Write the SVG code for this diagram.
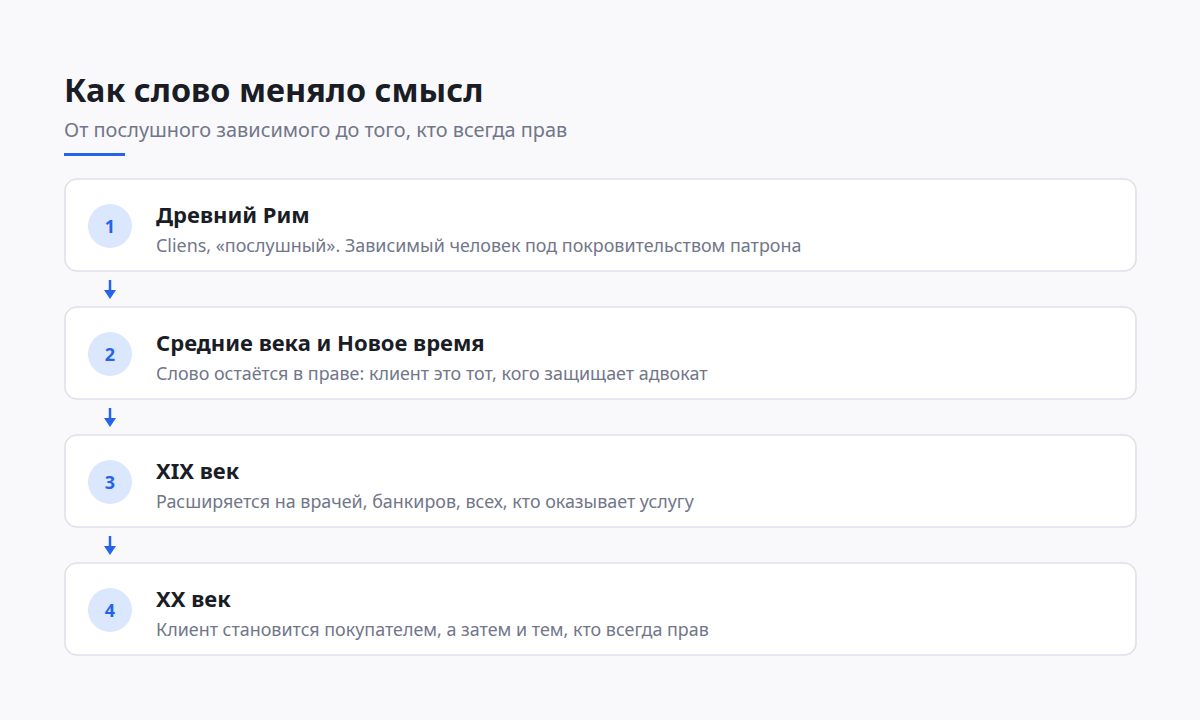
<svg xmlns="http://www.w3.org/2000/svg" width="1200" height="720" viewBox="0 0 1200 720">
<defs>
<style>
.card{fill:#ffffff;stroke:#dfe1ea;stroke-width:1.6}
.num{fill:#dbe7fd}
.numt{font-family:"Noto Sans","Open Sans",sans-serif;font-size:18px;font-weight:700;fill:#2563eb;text-anchor:middle}
.ttl{font-family:"Noto Sans","Open Sans",sans-serif;font-size:22px;font-weight:700;fill:#1a1d26}
.dsc{font-family:"Noto Sans","Open Sans",sans-serif;font-size:17.9px;fill:#717689}
.conn{stroke:#2563eb;stroke-width:2.5;fill:none}
.head{fill:#2563eb}
</style>
</defs>
<rect width="1200" height="720" fill="#f9f9fb"/>
<text x="64" y="102" font-family="'Noto Sans','Open Sans',sans-serif" font-size="32.4" font-weight="700" fill="#1a1d26">Как слово меняло смысл</text>
<text x="64" y="137" font-family="'Noto Sans','Open Sans',sans-serif" font-size="19.9" fill="#717689">От послушного зависимого до того, кто всегда прав</text>
<rect x="64" y="153" width="61" height="3" fill="#2563eb"/>
<g id="connectors">
<path class="conn" d="M110,280 V291"/>
<path class="head" d="M104,290 L116,290 L110,299 Z"/>
<path class="conn" d="M110,408 V419"/>
<path class="head" d="M104,418 L116,418 L110,427 Z"/>
<path class="conn" d="M110,536 V547"/>
<path class="head" d="M104,546 L116,546 L110,555 Z"/>
</g>
<g id="step1">
<rect class="card" x="65" y="179" width="1071" height="92" rx="12"/>
<circle class="num" cx="110" cy="226" r="22"/>
<text class="numt" x="110" y="233">1</text>
<text class="ttl" x="156" y="223">Древний Рим</text>
<text class="dsc" x="156" y="252">Cliens, «послушный». Зависимый человек под покровительством патрона</text>
</g>
<g id="step2">
<rect class="card" x="65" y="307" width="1071" height="92" rx="12"/>
<circle class="num" cx="110" cy="354" r="22"/>
<text class="numt" x="110" y="361">2</text>
<text class="ttl" x="156" y="351">Средние века и Новое время</text>
<text class="dsc" x="156" y="380">Слово остаётся в праве: клиент это тот, кого защищает адвокат</text>
</g>
<g id="step3">
<rect class="card" x="65" y="435" width="1071" height="92" rx="12"/>
<circle class="num" cx="110" cy="482" r="22"/>
<text class="numt" x="110" y="489">3</text>
<text class="ttl" x="156" y="479">XIX век</text>
<text class="dsc" x="156" y="508">Расширяется на врачей, банкиров, всех, кто оказывает услугу</text>
</g>
<g id="step4">
<rect class="card" x="65" y="563" width="1071" height="92" rx="12"/>
<circle class="num" cx="110" cy="610" r="22"/>
<text class="numt" x="110" y="617">4</text>
<text class="ttl" x="156" y="607">XX век</text>
<text class="dsc" x="156" y="636">Клиент становится покупателем, а затем и тем, кто всегда прав</text>
</g>
</svg>
